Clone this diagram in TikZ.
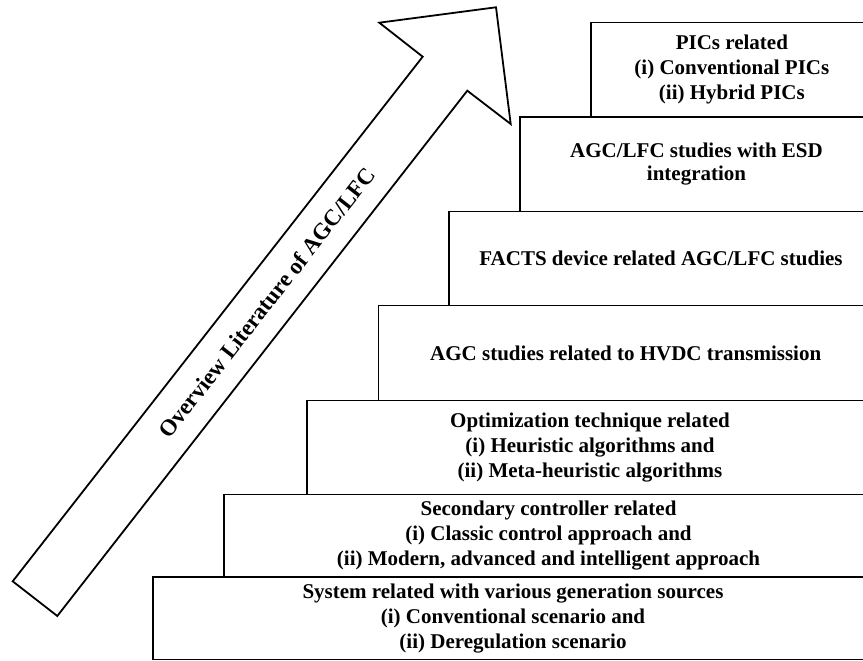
\documentclass[tikz,border=0pt]{standalone}
\usepackage{fontspec}
\setmainfont{Liberation Serif}
\begin{document}
\begin{tikzpicture}[x=1pt, y=1pt]
    % 定义样式
    \tikzstyle{stair}=[draw, line width=1.8pt, anchor=south west, outer sep=0pt, inner sep=0pt, align=center, font=\fontsize{21}{25}\selectfont\bfseries]
    \tikzstyle{bigarrow}=[line width=1.8pt, line join=miter, fill=white]
    \tikzstyle{arrowtext}=[rotate=52, font=\fontsize{23}{27}\selectfont\bfseries]

    \useasboundingbox (0,0) rectangle (863,661);

    % 1. 画台阶 (从下往上)
    \node[stair, minimum width=720pt, minimum height=82.5pt] (system) at (153,1.5)
        {System related with various generation sources\\(i) Conventional scenario and\\(ii) Deregulation scenario};
    \node[stair, minimum width=649pt, minimum height=82.5pt] (secondary) at (224,84)
        {Secondary controller related\\(i) Classic control approach and\\(ii) Modern, advanced and intelligent approach};
    \node[stair, minimum width=566pt, minimum height=94pt] (optim) at (307,166.5)
        {Optimization technique related\\(i) Heuristic algorithms and\\(ii) Meta-heuristic algorithms};
    \node[stair, minimum width=494.5pt, minimum height=95pt] (hvdc) at (378.5,260.5)
        {AGC studies related to HVDC transmission};
    \node[stair, minimum width=424pt, minimum height=94pt] (facts) at (449,355.5)
        {FACTS device related AGC/LFC studies};
    \node[stair, minimum width=353pt, minimum height=94.5pt, font=\fontsize{21}{23}\selectfont\bfseries] (esd) at (520,449.5)
        {AGC/LFC studies with ESD\\integration};
    \node[stair, minimum width=282.3pt, minimum height=94.5pt] (pics) at (590.7,544)
        {PICs related\\(i) Conventional PICs\\(ii) Hybrid PICs};

    % 2. 画大箭头
    \coordinate (tailL) at (12.7,79.7);
    \coordinate (shaftL) at (422.7,604.3);
    \coordinate (headL) at (379.3,638.3);
    \coordinate (tip) at (496,653.7);
    \coordinate (headR) at (510.7,537);
    \coordinate (shaftR) at (467.3,570.3);
    \coordinate (tailR) at (57.3,45);
    \draw[bigarrow] (tailL) -- (shaftL) -- (headL) -- (tip) -- (headR) -- (shaftR) -- (tailR) -- cycle;

    % 箭头上的文字
    \node[arrowtext] (overview) at (266.7,358.5) {Overview Literature of AGC/LFC};

\end{tikzpicture}
\end{document}
